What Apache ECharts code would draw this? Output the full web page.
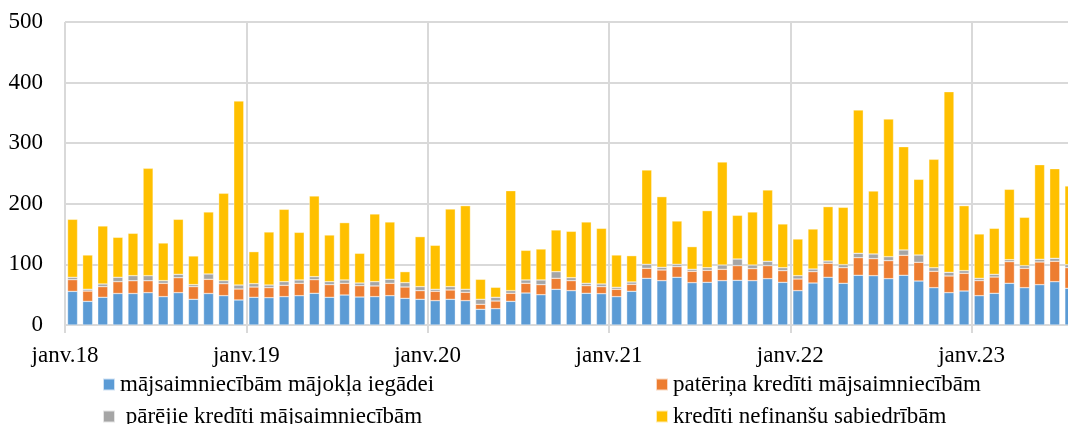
<!DOCTYPE html>
<html>
<head>
<meta charset="utf-8">
<script src="https://cdn.jsdelivr.net/npm/echarts@6/dist/echarts.min.js"></script>
<style>
  html, body { margin: 0; padding: 0; background: #fff; }
  #chart { width: 1068px; height: 424px; }
</style>
</head>
<body>
<div id="chart"></div>
<script>
// ---- data ----
const startYear = 2018;
const nMonths = 67; // Jan 2018 .. Jul 2023
const months = [];
for (let i = 0; i < nMonths; i++) {
  const y = startYear + Math.floor(i / 12);
  const m = (i % 12) + 1;
  months.push(y + '-' + (m < 10 ? '0' + m : m));
}
const tickLabels = ['janv.18', 'janv.19', 'janv.20', 'janv.21', 'janv.22', 'janv.23'];

const seriesNames = [
  'mājsaimniecībām mājokļa iegādei',
  'patēriņa kredīti mājsaimniecībām',
  'pārējie kredīti mājsaimniecībām',
  'kredīti nefinanšu sabiedrībām'
];

const mortgage = [55.5, 39, 45.7, 52, 52, 53.4, 46.8, 53.4, 42.4, 52, 48.4, 41.3,
  45.7, 45.1, 46.8, 48.4, 52.3, 45.7, 49.5, 46.2, 46.8, 48.4, 44, 42.4,
  40.2, 42.4, 40.2, 25.9, 27, 39, 52.8, 50, 58.9, 56.7, 52.3, 51.7,
  46.8, 55.6, 77, 73.2, 78.7, 69.9, 70.4, 73.2, 73.7, 73.2, 76.5, 70.4,
  56.7, 69.3, 78.7, 68.8, 82, 81.4, 76.5, 82, 72.6, 61.6, 53.4, 56.1,
  48.4, 52.3, 68.8, 61.6, 66.6, 71.5, 60.5];
const consumer = [19.3, 17, 17.6, 19.5, 21, 19.6, 22, 24.6, 20.9, 23.4, 19.8, 18.1,
  17, 16.5, 18.7, 20.4, 22.5, 20.9, 19.3, 18.7, 17.6, 20.4, 18.7, 14.3,
  15.4, 15.4, 13.7, 8.2, 12.6, 13.3, 16, 16.6, 18.1, 16.5, 12.6, 11.6,
  12.1, 11.5, 16.5, 17.6, 17.6, 18.7, 19.8, 18.7, 24.2, 19.8, 21.4, 19.3,
  19.2, 18.7, 23.1, 25.8, 29.1, 28.1, 29.7, 33, 30.8, 27, 27.5, 29.2,
  24.8, 26.9, 35.7, 31.9, 37.4, 33.6, 34.1];
const otherHH = [3.9, 3, 4.4, 7.2, 8.4, 8.4, 4.4, 5.6, 3.3, 8.8, 5, 6.6,
  5.5, 4.4, 6, 5.5, 5, 4.9, 5.5, 4.4, 7.1, 6.6, 7.2, 6.6,
  3.3, 5.5, 5, 8.3, 6.1, 4.4, 5.5, 7.7, 11, 4.9, 3.9, 4.4,
  3.3, 3.9, 6.6, 4.4, 3.8, 3.3, 4.4, 7.1, 11, 6, 7.2, 4.9,
  5.5, 4.4, 3.8, 5, 7.2, 7.7, 6.6, 8.8, 12.1, 6, 6, 4.4,
  3.8, 4.4, 3.3, 4.4, 4.4, 4.9, 5];
const nfc = [95.7, 56.5, 95.7, 66, 69.9, 177.1, 62.1, 90.8, 47.3, 102.3, 144.1, 303.6,
  52.8, 87.5, 119.4, 78.6, 133.1, 77, 94.6, 49, 111.7, 94.6, 18.1, 82.5,
  72.6, 128.1, 138, 33, 16.5, 165, 48.9, 51.1, 68.8, 76.5, 101.2, 91.8,
  53.3, 43.4, 155.7, 116.6, 71.5, 37.4, 94.1, 170, 72.1, 87.5, 117.7, 72.1,
  60.5, 66, 89.7, 94.6, 236.5, 103.9, 227.1, 170.5, 124.9, 178.8, 298.1, 107.2,
  73.2, 75.9, 116.1, 79.8, 156.2, 148, 129.8];

const colors = ['#5B9BD5', '#ED7D31', '#A5A5A5', '#FFC000'];
const values = [mortgage, consumer, otherHH, nfc];

// ---- chart ----
const FONT = '"Liberation Serif", "Times New Roman", serif';
const GRID = '#d9d9d9';
const boundaries = [];
for (let i = 0; i <= nMonths; i++) boundaries.push('b' + i);

const chart = echarts.init(document.getElementById('chart'), null, { renderer: 'canvas' });

const legendBase = {
  orient: 'vertical',
  top: 373,
  height: 80,
  width: 400,
  itemWidth: 12,
  itemHeight: 12,
  itemGap: 9,
  padding: 0,
  icon: 'rect',
  selectedMode: false,
  textStyle: { fontFamily: FONT, fontSize: 23, color: '#000', lineHeight: 23 },
  formatter: function (n) { return n === seriesNames[2] ? ' ' + n : n; }
};

chart.setOption({
  animation: false,
  backgroundColor: '#fff',
  grid: { left: 65, top: 22, width: 1012.4, height: 303, containLabel: false, outerBoundsMode: 'none' },
  legend: [
    Object.assign({}, legendBase, { left: 102, data: [seriesNames[0], seriesNames[2]] }),
    Object.assign({}, legendBase, { left: 655, data: [seriesNames[1], seriesNames[3]] })
  ],
  xAxis: [
    {
      type: 'category',
      data: months,
      boundaryGap: true,
      axisLine: { show: true, lineStyle: { color: GRID, width: 2 } },
      axisTick: { show: true, interval: function (i) { return i % 12 === 0; }, length: 8, lineStyle: { color: GRID, width: 2 } },
      axisLabel: { show: false },
      splitLine: { show: true, interval: function (i) { return i % 12 === 0; }, lineStyle: { color: GRID, width: 2 } }
    },
    {
      type: 'category',
      data: boundaries,
      boundaryGap: false,
      position: 'bottom',
      axisLine: { show: false },
      axisTick: { show: false },
      splitLine: { show: false },
      axisLabel: {
        interval: 0,
        margin: 19,
        fontFamily: FONT,
        fontSize: 23,
        color: '#000',
        formatter: function (v, idx) { return idx % 12 === 0 && tickLabels[idx / 12] ? tickLabels[idx / 12] : ''; }
      }
    }
  ],
  yAxis: {
    type: 'value',
    min: 0,
    max: 500,
    interval: 100,
    axisLine: { show: false },
    axisTick: { show: false },
    axisLabel: { margin: 22, fontFamily: FONT, fontSize: 23, color: '#000' },
    splitLine: { show: true, lineStyle: { color: GRID, width: 2 } }
  },
  series: values.map(function (arr, k) {
    return {
      name: seriesNames[k],
      type: 'bar',
      stack: 'total',
      xAxisIndex: 0,
      barWidth: 10,
      data: arr,
      itemStyle: { color: colors[k], borderColor: 'rgba(255,255,255,0.7)', borderWidth: 0.5 }
    };
  })
});
</script>
</body>
</html>
